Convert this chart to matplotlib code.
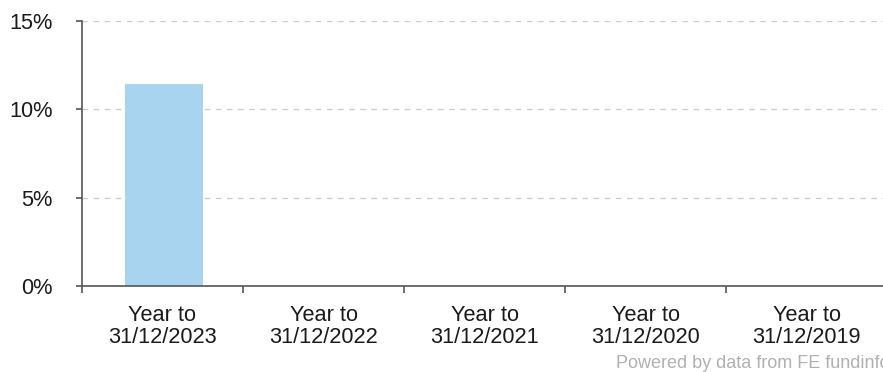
import matplotlib.pyplot as plt
import numpy as np
from matplotlib.ticker import FixedLocator, PercentFormatter

plt.rcParams["font.family"] = ["Liberation Sans", "DejaVu Sans"]

# discrete annual performance, most recent year first
periods = ["Year to\n31/12/2023", "Year to\n31/12/2022", "Year to\n31/12/2021",
           "Year to\n31/12/2020", "Year to\n31/12/2019"]
returns_pct = [11.45, np.nan, np.nan, np.nan, np.nan]
y_ticks = [0, 5, 10, 15]

fig = plt.figure(figsize=(8.83, 3.72), dpi=100)
ax = fig.add_axes([82 / 883, 1 - 286 / 372, 805 / 883, 265 / 372])

x = np.arange(len(periods))
ax.bar(x + 0.01, returns_pct, width=0.485, color="#a8d4f0", zorder=2)

ax.set_xlim(-0.5, len(periods) - 0.5)
ax.set_ylim(0, 15)
ax.yaxis.set_major_locator(FixedLocator(y_ticks))
ax.yaxis.set_major_formatter(PercentFormatter(decimals=0))
ax.grid(axis="y", color="#cccccc", linestyle=(0, (4, 4)), linewidth=1, zorder=0)

ax.set_xticks(x)
ax.set_xticklabels(periods, linespacing=1.05)
ax.xaxis.set_minor_locator(FixedLocator(np.arange(-0.5, len(periods), 1.0)))
ax.tick_params(axis="x", which="major", length=0, pad=13.5, labelsize=15.7, labelcolor="#1a1a1a")
ax.tick_params(axis="x", which="minor", length=5, color="#555555", width=1.2)
ax.tick_params(axis="y", length=4, color="#555555", width=1.2, pad=17,
               labelsize=15.7, labelcolor="#1a1a1a")

for side in ("top", "right"):
    ax.spines[side].set_visible(False)
for side in ("left", "bottom"):
    ax.spines[side].set_color("#555555")
    ax.spines[side].set_linewidth(1.2)

# source credit runs off the right edge of the canvas
fig.text(616 / 883, 1 - 363 / 372, "Powered by data from FE fundinfo",
         color="#b0b0b0", fontsize=13, va="center", ha="left")

fig.savefig("out.png", dpi=100)
